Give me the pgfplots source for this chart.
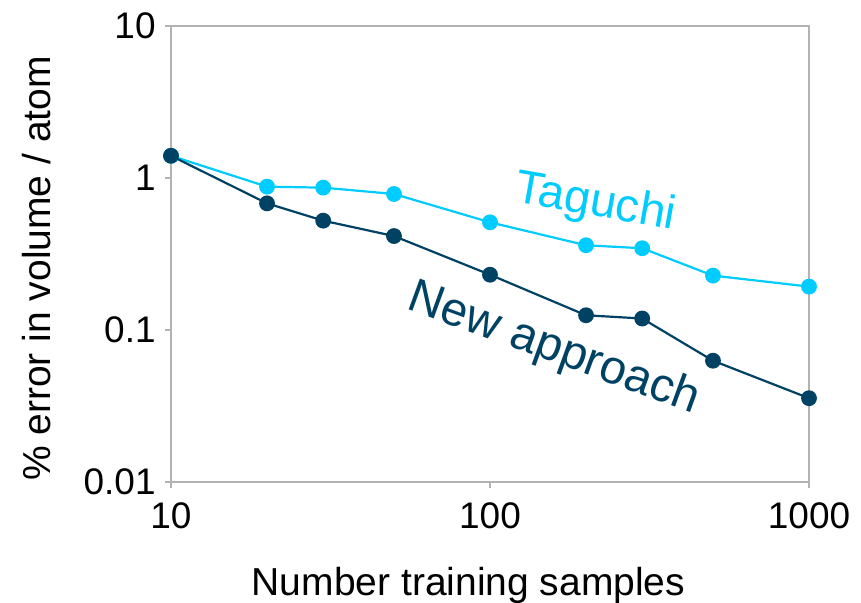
\documentclass[border=0pt]{standalone}
\usepackage{pgfplots}
\pgfplotsset{compat=1.18}
\usepackage{fontspec}
\setmainfont{Liberation Sans}
\definecolor{tag}{RGB}{0,204,255}
\definecolor{newc}{RGB}{0,66,100}
\definecolor{axgray}{RGB}{179,179,179}

\pgfplotstableread{
x y
10 1.40
20 0.877
30 0.864
50 0.785
100 0.511
200 0.361
300 0.345
500 0.228
1000 0.193
}\taguchi

\pgfplotstableread{
x y
10 1.40
20 0.681
30 0.524
50 0.415
100 0.231
200 0.125
300 0.119
500 0.0628
1000 0.0356
}\newapp

\begin{document}
\begin{tikzpicture}
\begin{axis}[
  name=ax,
  xmode=log, ymode=log,
  scale only axis,
  width=319pt, height=228pt,
  xmin=10, xmax=1000, ymin=0.01, ymax=10,
  xtick={10,100,1000}, xticklabels={10,100,1000},
  ytick={0.01,0.1,1,10}, yticklabels={0.01,0.1,1,10},
  xminorticks=false, yminorticks=false,
  tick align=outside, tick pos=left,
  major tick length=3pt,
  every tick/.style={axgray, line width=0.75pt},
  axis line style={axgray, line width=0.75pt},
  /pgf/number format/assume math mode=true,
  tick label style={font=\fontsize{18.5}{22}\selectfont, inner sep=0pt},
  yticklabel style={anchor=east, xshift=-4.5pt},
  xticklabel style={anchor=north, yshift=-7pt},
  clip=false,
  every axis x label/.style={at={(rel axis cs:0.4663,0)}, yshift=-56.5pt, anchor=base, font=\fontsize{19.5}{23}\selectfont, inner sep=0pt},
  every axis y label/.style={at={(rel axis cs:0,0.468)}, xshift=-60.5pt, rotate=90, anchor=base, font=\fontsize{19.5}{23}\selectfont, inner sep=0pt},
  xlabel={Number training samples},
  ylabel={\% error in volume / atom},
]
\addplot[tag, line width=1.1pt, mark=*, mark size=3.4pt, mark options={fill=tag, draw=tag}] table[x=x,y=y] {\taguchi};
\addplot[newc, line width=1.1pt, mark=*, mark size=3.4pt, mark options={fill=newc, draw=newc}] table[x=x,y=y] {\newapp};
\node[tag, font=\fontsize{23.5}{27}\selectfont, rotate=-10, anchor=base, inner sep=0pt] at (rel axis cs:0.662,0.5844) {Taguchi};
\node[newc, font=\fontsize{23.8}{27}\selectfont, rotate=-20, anchor=base, inner sep=0pt] at (rel axis cs:0.5935,0.2654) {New approach};
\end{axis}
\pgfresetboundingbox
\useasboundingbox ([xshift=-85.5pt,yshift=-60.5pt]ax.south west) rectangle ([xshift=26pt,yshift=13pt]ax.north east);
\end{tikzpicture}
\end{document}
